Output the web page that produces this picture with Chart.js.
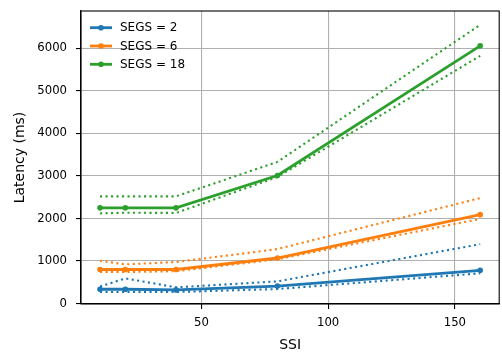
<!DOCTYPE html>
<html>
<head>
<meta charset="utf-8">
<script src="https://cdn.jsdelivr.net/npm/chart.js@4"></script>
<style>
  html, body { margin: 0; padding: 0; background: #fff; }
  #wrap { width: 502px; height: 354px; }
</style>
</head>
<body>
<div id="wrap"><canvas id="chart"></canvas></div>
<script>
// SSI values on the x axis
const ssi = [10, 20, 40, 80, 160];

// mean latency (ms) per SEGS setting
const segs2 = [335, 335, 320, 410, 780];
const segs6 = [800, 800, 800, 1070, 2090];
const segs18 = [2250, 2250, 2250, 3010, 6060];

// upper / lower bounds (dotted)
const segs2Hi = [400, 590, 380, 520, 1395];
const segs2Lo = [270, 270, 270, 340, 710];
const segs6Hi = [1005, 920, 975, 1280, 2480];
const segs6Lo = [740, 740, 760, 1040, 1990];
const segs18Hi = [2520, 2520, 2520, 3330, 6555];
const segs18Lo = [2120, 2135, 2130, 2975, 5825];

const xTicks = [50, 100, 150];
const yTicks = [0, 1000, 2000, 3000, 4000, 5000, 6000];

const BLUE = '#1f77b4', ORANGE = '#ff7f0e', GREEN = '#2ca02c';
const FONT = "'DejaVu Sans', sans-serif";

function pts(ys) {
    return ssi.map((x, i) => ({ x: x, y: ys[i] }));
}

function solid(label, ys, color) {
    return {
        label: label, data: pts(ys),
        borderColor: color, backgroundColor: color,
        borderWidth: 2.8, pointRadius: 2.8, pointHoverRadius: 2.8,
        pointBorderWidth: 0, tension: 0, order: 1
    };
}

function dotted(ys, color) {
    return {
        label: '', data: pts(ys),
        borderColor: color, borderWidth: 2.1, borderDash: [2.1, 3.4],
        pointRadius: 0, tension: 0, order: 2
    };
}

// legend drawn inside the plot, no frame
const innerLegend = {
    id: 'innerLegend',
    afterDatasetsDraw(chart) {
        const ctx = chart.ctx;
        const area = chart.chartArea;
        const items = chart.data.datasets.filter(d => d.label);
        ctx.save();
        ctx.font = '12px ' + FONT;
        ctx.textBaseline = 'middle';
        items.forEach((d, i) => {
            const y = area.top + 16.7 + i * 18.3;
            const x0 = area.left + 9;
            ctx.strokeStyle = d.borderColor;
            ctx.lineWidth = 2.8;
            ctx.beginPath();
            ctx.moveTo(x0, y);
            ctx.lineTo(x0 + 22, y);
            ctx.stroke();
            ctx.fillStyle = d.borderColor;
            ctx.beginPath();
            ctx.arc(x0 + 11, y, 2.8, 0, Math.PI * 2);
            ctx.fill();
            ctx.fillStyle = '#000';
            ctx.fillText(d.label, x0 + 30, y + 0.5);
        });
        ctx.restore();
    }
};

// full box around the plot
const frame = {
    id: 'frame',
    afterDraw(chart) {
        const a = chart.chartArea;
        const ctx = chart.ctx;
        ctx.save();
        ctx.strokeStyle = '#000';
        ctx.lineWidth = 1.1;
        ctx.strokeRect(a.left, a.top, a.right - a.left, a.bottom - a.top);
        ctx.restore();
    }
};

new Chart(document.getElementById('chart'), {
    type: 'line',
    data: {
        datasets: [
            solid('SEGS = 2', segs2, BLUE),
            solid('SEGS = 6', segs6, ORANGE),
            solid('SEGS = 18', segs18, GREEN),
            dotted(segs2Hi, BLUE), dotted(segs2Lo, BLUE),
            dotted(segs6Hi, ORANGE), dotted(segs6Lo, ORANGE),
            dotted(segs18Hi, GREEN), dotted(segs18Lo, GREEN)
        ]
    },
    options: {
        responsive: true,
        maintainAspectRatio: false,
        animation: false,
        layout: { padding: { top: 11, right: -1, left: 0, bottom: 0 } },
        plugins: { legend: { display: false }, tooltip: { enabled: false } },
        scales: {
            x: {
                type: 'linear', min: 2.5, max: 167.5,
                afterBuildTicks: s => { s.ticks = xTicks.map(v => ({ value: v })); },
                afterFit: s => { s.height = 50; s.paddingLeft = 0; s.paddingRight = 0; },
                grid: { color: '#b0b0b0', lineWidth: 1.1, tickLength: 5, tickColor: '#000', tickWidth: 1.1 },
                border: { display: true, color: '#000', width: 1.1 },
                ticks: { font: { family: FONT, size: 11.7 }, color: '#000', padding: 7, maxRotation: 0 },
                title: { display: true, text: 'SSI', font: { family: FONT, size: 14 }, color: '#000', padding: { top: 0, bottom: 0 } }
            },
            y: {
                type: 'linear', min: -12, max: 6880,
                afterBuildTicks: s => { s.ticks = yTicks.map(v => ({ value: v })); },
                afterFit: s => { s.width = 81; s.paddingTop = 0; s.paddingBottom = 0; },
                grid: { color: '#b0b0b0', lineWidth: 1.1, tickLength: 5, tickColor: '#000', tickWidth: 1.1 },
                border: { display: true, color: '#000', width: 1.1 },
                ticks: { font: { family: FONT, size: 11.7 }, color: '#000', padding: 9, callback: v => String(v) },
                title: { display: true, text: 'Latency (ms)', font: { family: FONT, size: 14 }, color: '#000', padding: { top: 12, bottom: 0 } }
            }
        }
    },
    plugins: [innerLegend, frame]
});
</script>
</body>
</html>
